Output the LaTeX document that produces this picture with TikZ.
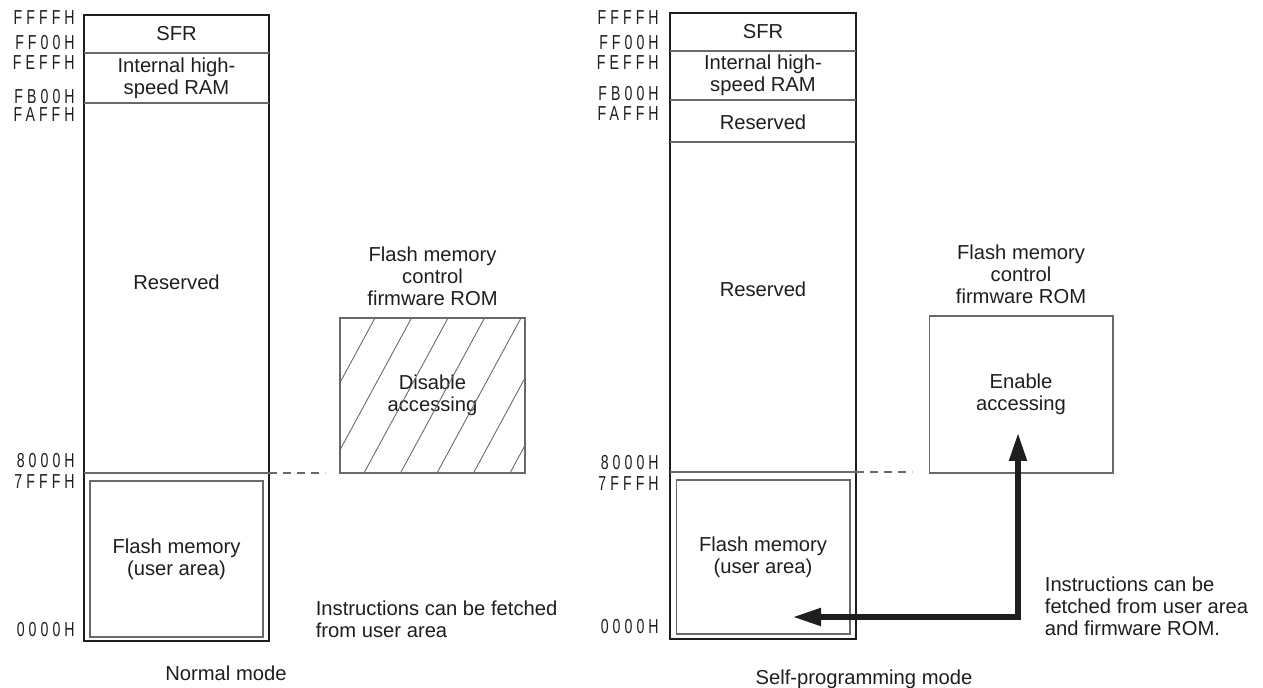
\documentclass[tikz,border=0pt]{standalone}
\usepackage{fontspec}
\setmainfont{Liberation Sans}
\newfontfamily\addrfont[FakeStretch=0.7,LetterSpace=20]{Liberation Sans}
\usetikzlibrary{positioning,arrows.meta}
\definecolor{mmInk}{RGB}{30,30,30}
\definecolor{mmGray}{RGB}{105,105,105}
\newcommand{\mmfont}{\fontsize{11.5}{12.5}\selectfont}

\begin{document}
\begin{tikzpicture}[
    x=0.02cm, y=-0.02cm,
    map frame/.style={draw=mmInk, line width=1.6pt},
    divider/.style={draw=mmGray, line width=0.6pt},
    region text/.style={align=center, text=mmInk, font=\mmfont, inner sep=2pt},
    user box/.style={rectangle, draw=mmGray, line width=0.6pt, align=center, text=mmInk, font=\mmfont},
    rom box/.style={rectangle, draw=mmGray, line width=0.6pt, minimum width=3.7cm, minimum height=3.1cm, align=center, text=mmInk, font=\mmfont},
    addr label/.style={anchor=east, text=mmInk, font=\addrfont\fontsize{11.5}{11.5}\selectfont, inner sep=0pt},
    guide line/.style={draw=mmGray, line width=0.6pt, dash pattern=on 0.16cm off 0.12cm},
    fetch arrow/.style={draw=mmInk, line width=2.9pt, {Triangle[length=0.56cm,width=0.34cm]}-{Triangle[length=0.56cm,width=0.34cm]}}
]
  \useasboundingbox (0,0) rectangle (1263,688);

  % normal mode
  \draw[map frame] (84,15) rectangle (269,641);
  \draw[divider] (84,53) -- (269,53);
  \draw[divider] (84,103) -- (269,103);
  \draw[divider] (84,473) -- (269,473);
  \node[region text] (sfrL) at (176.5,34) {SFR};
  \node[region text] (ramL) at (176.5,78) {Internal high-\\speed RAM};
  \node[region text] (resL) at (176.5,282) {Reserved};
  \node[user box, minimum width=3.46cm, minimum height=3.12cm] (userL) at (176.5,559) {Flash memory\\(user area)};
  \foreach \lab/\yy in {FFFFH/18, FF00H/43, FEFFH/63, FB00H/97, FAFFH/115, 8000H/461, 7FFFH/482, 0000H/630}
    \node[addr label] (aL\lab) at (75,\yy) {\lab};

  \node[rom box] (romL) at (432.5,395.5) {Disable\\accessing};
  \begin{scope}
    \clip (romL.south west) rectangle (romL.north east);
    \foreach \k in {-1,...,7}
      \draw[mmGray, line width=0.5pt] (375+36.5*\k,318) -- (291+36.5*\k,473);
  \end{scope}
  \node[region text, above=0.15cm of romL] (romTitleL) {Flash memory\\control\\firmware ROM};
  \coordinate (b8L) at (269,473);
  \coordinate (g8L) at (325,473);
  \draw[guide line] (b8L) -- (g8L);
  \node[region text, align=left, anchor=west] (noteL) at (312,619) {Instructions can be fetched\\from user area};
  \node[region text] (capL) at (226,673) {Normal mode};

  % self-programming mode
  \draw[map frame] (670,13) rectangle (856,639);
  \draw[divider] (670,51) -- (856,51);
  \draw[divider] (670,100) -- (856,100);
  \draw[divider] (670,142) -- (856,142);
  \draw[divider] (670,472) -- (856,472);
  \node[region text] (sfrR) at (763,32) {SFR};
  \node[region text] (ramR) at (763,75) {Internal high-\\speed RAM};
  \node[region text] (res1R) at (763,122) {Reserved};
  \node[region text] (res2R) at (763,289) {Reserved};
  \node[user box, minimum width=3.48cm, minimum height=3.08cm] (userR) at (763,557) {Flash memory\\(user area)};
  \foreach \lab/\yy in {FFFFH/18, FF00H/43, FEFFH/63, FB00H/94, FAFFH/114, 8000H/463, 7FFFH/484, 0000H/627}
    \node[addr label] (aR\lab) at (659,\yy) {\lab};

  \node[rom box, minimum width=3.68cm, minimum height=3.14cm] (romR) at (1021,394.5) {Enable\\accessing};
  \node[region text, above=0.15cm of romR] (romTitleR) {Flash memory\\control\\firmware ROM};
  \coordinate (b8R) at (856,472);
  \coordinate (g8R) at (912,472);
  \draw[guide line] (b8R) -- (g8R);
  \coordinate (tipUserR) at (793,617);
  \coordinate (tipRomR) at (1018,433);
  \draw[fetch arrow] (tipUserR) -| (tipRomR);
  \node[region text, align=left, anchor=west] (noteR) at (1041,606) {Instructions can be\\fetched from user area\\and firmware ROM.};
  \node[region text] (capR) at (864,679) {Self-programming mode};
\end{tikzpicture}
\end{document}
